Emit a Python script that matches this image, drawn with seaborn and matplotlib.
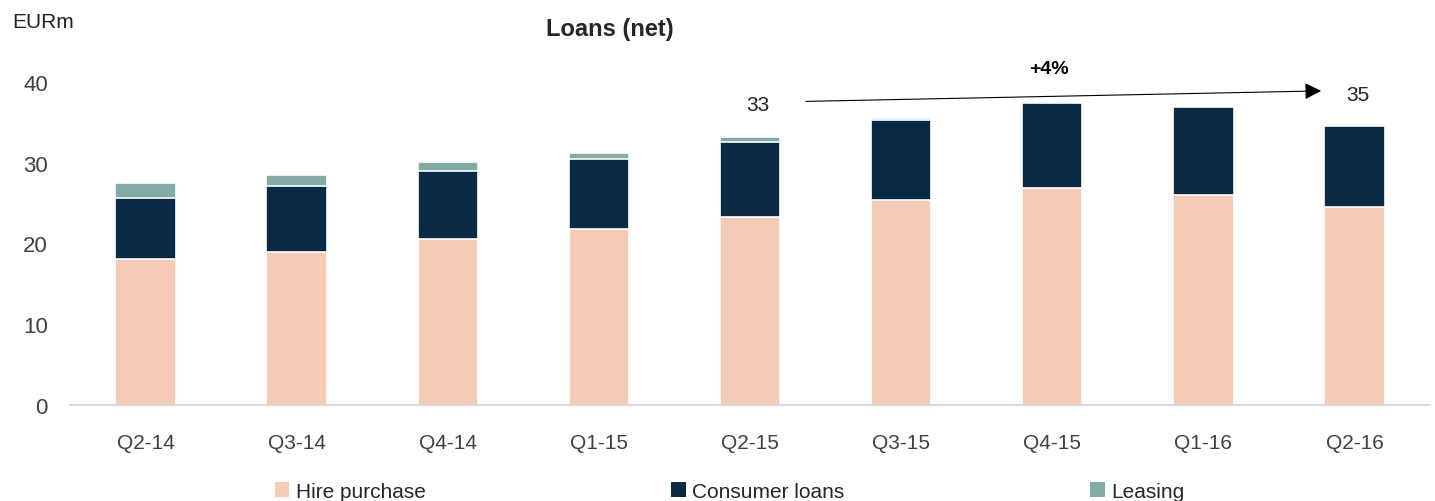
import numpy as np
import pandas as pd
import matplotlib
matplotlib.use("Agg")
import matplotlib.pyplot as plt
from matplotlib.patches import Patch
import seaborn as sns

# Data (EURm)
quarters = ["Q2-14", "Q3-14", "Q4-14", "Q1-15", "Q2-15", "Q3-15", "Q4-15", "Q1-16", "Q2-16"]
hire_purchase = [18.1, 18.9, 20.6, 21.8, 23.3, 25.4, 26.9, 26.0, 24.5]
consumer_loans = [7.5, 8.2, 8.4, 8.7, 9.3, 9.9, 10.5, 10.9, 10.1]
leasing = [1.9, 1.4, 1.1, 0.7, 0.6, 0.2, 0.1, 0.0, 0.0]
series_names = ["Hire purchase", "Consumer loans", "Leasing"]
colors = ["#F4CBB4", "#082A45", "#82ABA5"]
start_label, end_label, growth_label = "33", "35", "+4%"

sns.set_theme(style="white")
plt.rcParams["font.family"] = ["Liberation Sans", "DejaVu Sans"]

df = pd.DataFrame({"quarter": quarters, "Hire purchase": hire_purchase,
                   "Consumer loans": consumer_loans, "Leasing": leasing})
cum = df[series_names].cumsum(axis=1)

fig = plt.figure(figsize=(14.35, 5.02), dpi=100)
ax = fig.add_axes([70 / 1435, 1 - 406 / 502, 1360 / 1435, 323 / 502])

# stacked bars: draw cumulative totals from the top layer down
for name, col in reversed(list(zip(series_names, colors))):
    sns.barplot(x=df["quarter"], y=cum[name], color=col, width=0.4,
                edgecolor="white", linewidth=1.2, ax=ax, saturation=1)

ax.set_ylim(0, 40)
ax.set_xlim(-0.5, len(quarters) - 0.5)
ax.set_yticks([0, 10, 20, 30, 40])
ax.set_xlabel("")
ax.set_ylabel("")
for s in ["top", "right", "left"]:
    ax.spines[s].set_visible(False)
ax.spines["bottom"].set_color("#D9D9D9")
ax.spines["bottom"].set_linewidth(1.5)
ax.tick_params(axis="y", length=0, labelsize=16, labelcolor="#404040", pad=16)
ax.tick_params(axis="x", which="major", length=0, labelsize=15, labelcolor="#404040", pad=20)
ax.set_xticks(np.arange(-0.5, len(quarters)), minor=True)
ax.tick_params(axis="x", which="minor", length=8, width=1.5, color="#D9D9D9")

# growth arrow
ax.annotate("", xy=(7.78, 38.9), xytext=(4.37, 37.6),
            arrowprops=dict(arrowstyle="-|>", color="black", lw=0.8,
                            mutation_scale=25, shrinkA=0, shrinkB=0),
            annotation_clip=False)
ax.text(4.05, 37.2, start_label, ha="center", va="center", fontsize=15, color="#222222")
ax.text(8.02, 38.4, end_label, ha="center", va="center", fontsize=15, color="#222222")
ax.text(5.98, 41.7, growth_label, ha="center", va="center", fontsize=14,
        fontweight="bold", color="black", clip_on=False)

fig.text(610 / 1435, 1 - 30 / 502, "Loans (net)", ha="center", va="center",
         fontsize=17, fontweight="bold", color="#262626")
fig.text(12 / 1435, 1 - 22 / 502, "EURm", ha="left", va="center",
         fontsize=15, color="#222222")

handles = [Patch(facecolor=c, edgecolor="none") for c in colors]
fig.legend(handles, series_names, loc="lower left", bbox_to_anchor=(256 / 1435, -0.037),
           ncol=3, frameon=False, fontsize=15, handlelength=0.7, handleheight=0.7,
           handletextpad=0.3, columnspacing=11.8)

fig.savefig("out.png", dpi=100)
